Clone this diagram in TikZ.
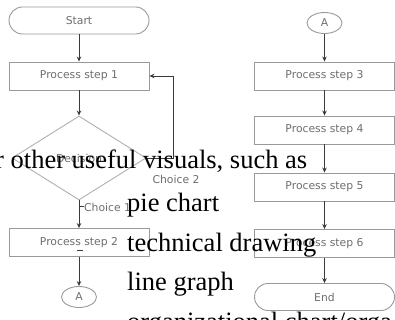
\documentclass[tikz,border=0pt]{standalone}
\usepackage{fontspec}
\setmainfont{Liberation Serif}
\newfontfamily\flowfont{DejaVu Sans}
\usetikzlibrary{arrows.meta,shapes.geometric}
\definecolor{boxc}{HTML}{9A9A9A}
\definecolor{diac}{HTML}{B0B0B0}
\definecolor{arrc}{HTML}{3A3A3A}
\definecolor{txtc}{HTML}{6E6E6E}
\begin{document}
\begin{tikzpicture}[x=1pt,y=-1pt,
  box/.style={draw=boxc, line width=0.9pt, minimum width=140pt, minimum height=28pt,
    inner sep=0pt, font=\flowfont\fontsize{10.8}{12}\selectfont, text=txtc},
  term/.style={box, rounded corners=13.5pt, minimum height=27pt},
  conn/.style={box, ellipse, minimum width=35pt, minimum height=21pt},
  dec/.style={draw=diac, line width=0.9pt, diamond, minimum width=134pt, minimum height=84pt,
    inner sep=0pt, font=\flowfont\fontsize{10.8}{12}\selectfont, text=txtc},
  arr/.style={draw=arrc, line width=0.9pt, -{Stealth[length=5pt,width=4.5pt]}},
  lbl/.style={font=\flowfont\fontsize{10.8}{12}\selectfont, text=txtc, inner sep=0pt},
  over/.style={font=\fontsize{26.5}{30}\selectfont, inner sep=0pt, anchor=base west, text=black}
]
\useasboundingbox[fill=white] (0,0) rectangle (395,320);

% left column
\node[term] (start) at (79,20.5) {Start};
\node[box] (p1) at (79,76) {Process step 1};
\node[dec] (d) at (79,158) {Decision};
\node[box] (p2) at (79,242.5) {Process step 2};
\node[conn] (a1) at (79,297) {A};

\draw[arr] (start) -- (p1);
\draw[arr] (p1) -- (d);
\draw[arr] (d) -- (p2);
\draw[arr] (p2) -- (a1);
\draw[arr] (d.east) -- ++(27,0) |- (p1.east);

\node[lbl] (c2) at (176,179) {Choice 2};
\node[lbl, anchor=west] (c1) at (84,207) {Choice 1};
\draw[arrc, line width=1pt] (79,206) -- (84,206);
\draw[arrc, line width=0.9pt] (77,250.5) -- (83,250.5);

% right column
\node[conn] (a2) at (324.5,23) {A};
\node[box] (p3) at (324.5,76) {Process step 3};
\node[box] (p4) at (324.5,130) {Process step 4};
\node[box] (p5) at (324.5,187) {Process step 5};
\node[box] (p6) at (324.5,243.5) {Process step 6};
\node[term] (end) at (324.5,297) {End};

\draw[arr] (a2) -- (p3);
\draw[arr] (p3) -- (p4);
\draw[arr] (p4) -- (p5);
\draw[arr] (p5) -- (p6);
\draw[arr] (p6) -- (end);

% overlaid text
\node[over] (t1) at (-5,168) {r other useful visuals, such as};
\node[over] (t2) at (127,211) {pie chart};
\node[over] (t3) at (127,251) {technical drawing};
\node[over] (t4) at (127,290) {line graph};
\node[over] (t5) at (127,330) {organizational chart/orga};
\end{tikzpicture}
\end{document}
